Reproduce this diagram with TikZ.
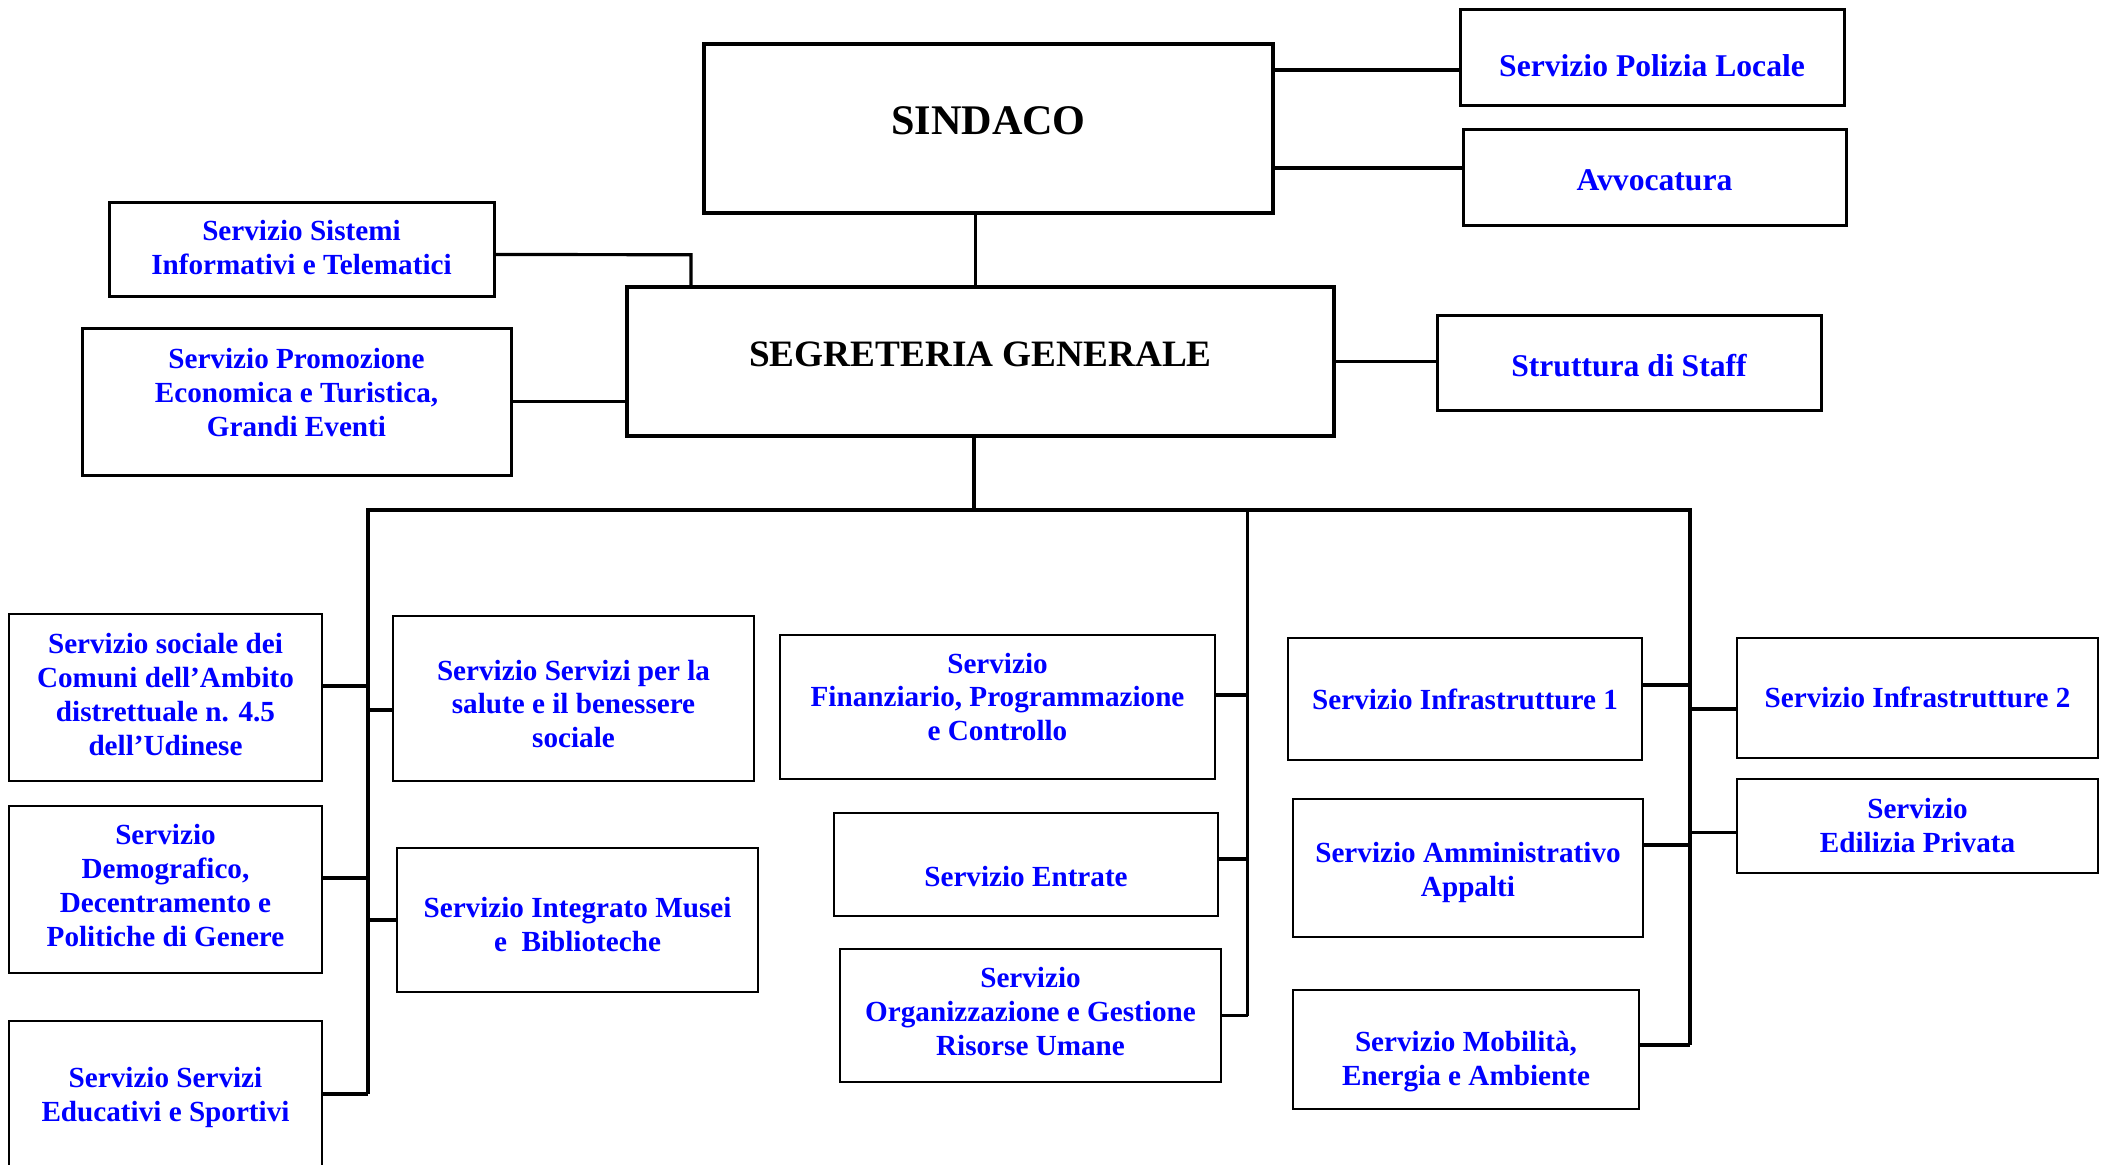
\documentclass[tikz,border=0pt]{standalone}
\usepackage{fontspec}
\setmainfont{Liberation Serif}
\usepackage{tikz}
\tikzstyle{head} = [rectangle, text centered, draw=black, line width=0.35mm, inner sep=0pt, text depth=0pt]
\tikzstyle{staff} = [rectangle, align=center, draw=black, line width=0.3mm, text=blue, inner sep=0pt, text height=0pt, text depth=0pt, font=\fontsize{9}{10.4}\selectfont\bfseries]
\tikzstyle{unit} = [rectangle, align=center, draw=black, line width=0.22mm, text=blue, inner sep=0pt, text height=0pt, text depth=0pt, font=\fontsize{8.3}{9.64}\selectfont\bfseries]
\tikzstyle{link} = [line width=0.32mm]

\begin{document}
\begin{tikzpicture}[x=0.1mm, y=-0.1mm]

    \useasboundingbox (0,0) rectangle (2110,1164);

    \node (sindaco) [head, minimum width=56.9mm, minimum height=16.9mm, text height=1.1mm, font=\fontsize{12}{14}\selectfont\bfseries] at (988.5,128.5) {SINDACO};
    \node (segreteria) [head, minimum width=70.7mm, minimum height=14.9mm, text height=1.04mm, font=\fontsize{10.6}{12}\selectfont\bfseries] at (980.5,361.5) {SEGRETERIA GENERALE};
    \node (polizia) [staff, minimum width=38.4mm, minimum height=9.6mm, text height=3.94mm] at (1652,57) {Servizio Polizia Locale};
    \node (avvocatura) [staff, minimum width=38.3mm, minimum height=9.6mm, text height=2.74mm] at (1654.5,177) {Avvocatura};
    \node (struttura) [staff, minimum width=38.4mm, minimum height=9.5mm, text height=2.7mm] at (1629,362.5) {Struttura di Staff};
    \node (sistemi) [staff, minimum width=38.5mm, minimum height=9.4mm, text height=5mm, font=\fontsize{8.3}{9.64}\selectfont\bfseries] at (301.5,249) {Servizio Sistemi\\Informativi e Telematici};
    \node (promozione) [staff, minimum width=42.9mm, minimum height=14.7mm, text height=6.96mm, font=\fontsize{8.3}{9.64}\selectfont\bfseries] at (296.5,401.5) {Servizio Promozione\\Economica e Turistica,\\Grandi Eventi};

    \node (sociale) [unit, minimum width=31.3mm, minimum height=16.7mm, text height=11.62mm] at (165.5,697.5) {Servizio sociale dei\\Comuni dell’Ambito\\distrettuale n. 4.5\\dell’Udinese};
    \node (demografico) [unit, minimum width=31.3mm, minimum height=16.7mm, text height=11.36mm] at (165.5,889.5) {Servizio\\Demografico,\\Decentramento e\\Politiche di Genere};
    \node (educativi) [unit, minimum width=31.3mm, minimum height=14.6mm, text height=5.56mm] at (165.5,1094) {Servizio Servizi\\Educativi e Sportivi};
    \node (salute) [unit, minimum width=36.1mm, minimum height=16.5mm, text height=9.86mm] at (573.5,698.5) {Servizio Servizi per la\\salute e il benessere\\sociale};
    \node (musei) [unit, minimum width=36.1mm, minimum height=14.4mm, text height=6.32mm] at (577.5,920) {Servizio Integrato Musei\\e~~Biblioteche};
    \node (finanziario) [unit, minimum width=43.5mm, minimum height=14.4mm, text height=6.76mm] at (997.5,707) {Servizio\\Finanziario, Programmazione\\e Controllo};
    \node (entrate) [unit, minimum width=38.4mm, minimum height=10.3mm, text height=4.42mm] at (1026,864.5) {Servizio Entrate};
    \node (risorse) [unit, minimum width=38.1mm, minimum height=13.3mm, text height=7.9mm] at (1030.5,1015.5) {Servizio\\Organizzazione e Gestione\\Risorse Umane};
    \node (infra1) [unit, minimum width=35.4mm, minimum height=12.2mm, text height=2mm] at (1465,699) {Servizio Infrastrutture 1};
    \node (appalti) [unit, minimum width=35mm, minimum height=13.8mm, text height=5.72mm] at (1468,868) {Servizio Amministrativo\\Appalti};
    \node (mobilita) [unit, minimum width=34.6mm, minimum height=11.9mm, text height=7.22mm] at (1466,1049.5) {Servizio Mobilità,\\Energia e Ambiente};
    \node (infra2) [unit, minimum width=36.1mm, minimum height=12mm, text height=1.96mm] at (1917.5,698) {Servizio Infrastrutture 2};
    \node (edilizia) [unit, minimum width=36.1mm, minimum height=9.4mm, text height=5.32mm] at (1917.5,826) {Servizio\\Edilizia Privata};

    \coordinate (hub) at (974,510);
    \coordinate (busL) at (368,510);
    \coordinate (busM) at (1247.5,510);
    \coordinate (busR) at (1690,510);
    \coordinate (knee) at (691,254.7);

    \draw [link] ([yshift=-1.3mm]polizia.west) -- ([yshift=-1.3mm]polizia.west -| sindaco.east);
    \draw [link] ([yshift=0.9mm]avvocatura.west) -- ([yshift=0.9mm]avvocatura.west -| sindaco.east);
    \draw [link] ([xshift=-1.3mm]sindaco.south) -- ([xshift=-1.3mm]sindaco.south |- segreteria.north);
    \draw [link] ([yshift=-0.55mm]sistemi.east) -- (knee) -- (knee |- segreteria.north);
    \draw [link] (promozione.east) -- (promozione.east -| segreteria.west);
    \draw [link] (segreteria.east) -- (segreteria.east -| struttura.west);
    \draw [link] (hub |- segreteria.south) -- (hub);

    \draw [link] (busL |- educativi.east) -- (busL) -- (busR) -- ([yshift=0.45mm]busR |- mobilita.east);
    \draw [link] (busM) -- (busM |- risorse.east);

    \draw [link] ([yshift=1.15mm]sociale.east) -- ([yshift=1.15mm]sociale.east -| busL);
    \draw [link] ([yshift=1.15mm]demografico.east) -- ([yshift=1.15mm]demografico.east -| busL);
    \draw [link] (educativi.east) -- (educativi.east -| busL);
    \draw [link] ([yshift=-1.15mm]salute.west) -- ([yshift=-1.15mm]salute.west -| busL);
    \draw [link] (musei.west) -- (musei.west -| busL);

    \draw [link] ([yshift=1.2mm]finanziario.east) -- ([yshift=1.2mm]finanziario.east -| busM);
    \draw [link] ([yshift=0.55mm]entrate.east) -- ([yshift=0.55mm]entrate.east -| busM);
    \draw [link] (risorse.east) -- (risorse.east -| busM);

    \draw [link] ([yshift=1.4mm]infra1.east) -- ([yshift=1.4mm]infra1.east -| busR);
    \draw [link] ([yshift=2.3mm]appalti.east) -- ([yshift=2.3mm]appalti.east -| busR);
    \draw [link] ([yshift=0.45mm]mobilita.east) -- ([yshift=0.45mm]mobilita.east -| busR);
    \draw [link] ([yshift=-1.1mm]infra2.west) -- ([yshift=-1.1mm]infra2.west -| busR);
    \draw [link] ([yshift=-0.65mm]edilizia.west) -- ([yshift=-0.65mm]edilizia.west -| busR);

\end{tikzpicture}
\end{document}
